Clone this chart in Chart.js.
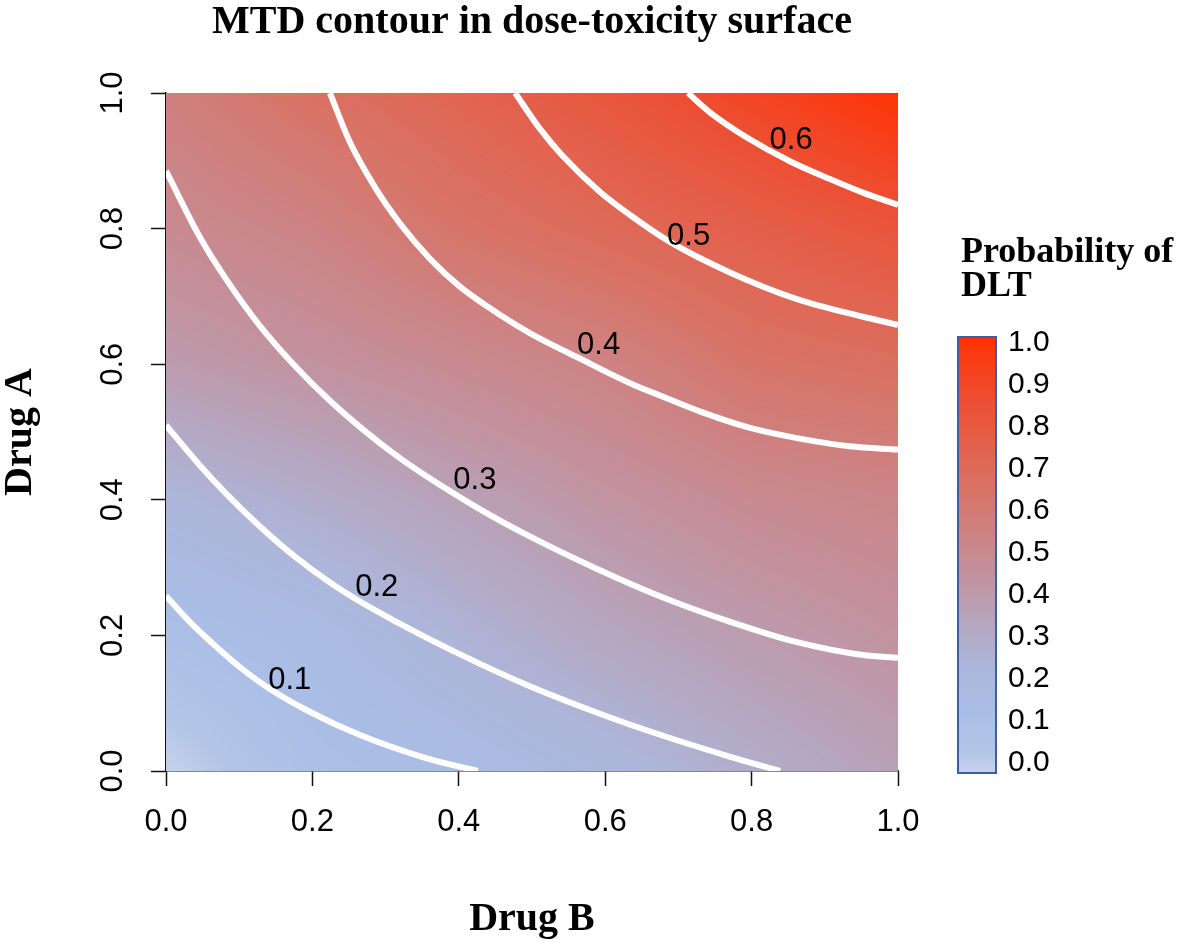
<!DOCTYPE html>
<html>
<head>
<meta charset="utf-8">
<script src="https://cdn.jsdelivr.net/npm/chart.js@4/dist/chart.umd.min.js"></script>
<style>
  html, body { margin: 0; padding: 0; background: #fff; }
  #wrap { width: 1180px; height: 947px; }
</style>
</head>
<body>
<div id="wrap"><canvas id="mtd-chart" width="1180" height="947"></canvas></div>
<script>
// axis ticks
var tickVals = [0, 0.2, 0.4, 0.6, 0.8, 1.0];
var tickLabels = ['0.0', '0.2', '0.4', '0.6', '0.8', '1.0'];

// surface grid (probability), rows = Drug A, cols = Drug B
var gridB = [0, 0.2, 0.4, 0.6, 0.8, 1.0];
var gridA = [0, 0.2, 0.4, 0.6, 0.8, 1.0];
var surface = [
  [0.00, 0.12, 0.16, 0.22, 0.30, 0.37],
  [0.12, 0.17, 0.26, 0.34, 0.40, 0.45],
  [0.24, 0.30, 0.37, 0.44, 0.50, 0.53],
  [0.40, 0.45, 0.50, 0.55, 0.64, 0.67],
  [0.50, 0.55, 0.64, 0.70, 0.76, 0.82],
  [0.57, 0.66, 0.73, 0.81, 0.90, 1.00]
];

// colour scale
var cmapAt = [0, 0.05, 0.15, 0.25, 0.35, 0.45, 0.55, 0.65, 0.75, 0.85, 0.95, 1.0];
var cmapCol = ['#c6d3eb', '#b3c5e7', '#a9bde5', '#adb5d9', '#b6a5bd', '#c2929f',
               '#cd8383', '#d87366', '#e3614c', '#ec4f33', '#f93c14', '#ff3300'];
var legendTicks = ['1.0', '0.9', '0.8', '0.7', '0.6', '0.5', '0.4', '0.3', '0.2', '0.1', '0.0'];

// contour lines [Drug B, Drug A]
var c01 = [[0, 0.258], [0.037, 0.215], [0.074, 0.178], [0.101, 0.153], [0.142, 0.121],
           [0.197, 0.087], [0.265, 0.053], [0.355, 0.019], [0.426, 0.0]];
var c02 = [[0, 0.510], [0.046, 0.451], [0.083, 0.408], [0.128, 0.361], [0.174, 0.318],
           [0.224, 0.278], [0.265, 0.250], [0.320, 0.217], [0.357, 0.196], [0.429, 0.158],
           [0.497, 0.125], [0.589, 0.086], [0.679, 0.052], [0.771, 0.021], [0.839, 0.0]];
var c03 = [[0, 0.885], [0.046, 0.788], [0.083, 0.724], [0.128, 0.657], [0.174, 0.600],
           [0.224, 0.546], [0.271, 0.502], [0.320, 0.461], [0.357, 0.434], [0.429, 0.386],
           [0.497, 0.346], [0.589, 0.298], [0.679, 0.256], [0.771, 0.220], [0.862, 0.190],
           [0.952, 0.171], [1.0, 0.167]];
var c04 = [[0.224, 1.0], [0.251, 0.928], [0.286, 0.860], [0.320, 0.807], [0.361, 0.755],
           [0.402, 0.714], [0.456, 0.673], [0.497, 0.646], [0.566, 0.608], [0.634, 0.572],
           [0.679, 0.552], [0.730, 0.530], [0.798, 0.506], [0.862, 0.491], [0.934, 0.479],
           [1.0, 0.474]];
var c05 = [[0.477, 1.0], [0.511, 0.947], [0.542, 0.907], [0.593, 0.854], [0.634, 0.820],
           [0.689, 0.780], [0.771, 0.735], [0.862, 0.696], [0.952, 0.670], [1.0, 0.658]];
var c06 = [[0.713, 1.0], [0.747, 0.968], [0.794, 0.934], [0.853, 0.899], [0.907, 0.873],
           [0.952, 0.853], [1.0, 0.835]];

var contourLines = [c01, c02, c03, c04, c05, c06];
var contourText = ['0.1', '0.2', '0.3', '0.4', '0.5', '0.6'];
var contourLabelB = [0.169, 0.288, 0.422, 0.591, 0.714, 0.854];
var contourLabelA = [0.133, 0.271, 0.428, 0.627, 0.789, 0.930];

var SANS = '"Liberation Sans", Arial, sans-serif';
var SERIF = '"Liberation Serif", "Times New Roman", serif';

function hexRgb(h) {
  return [parseInt(h.substr(1, 2), 16), parseInt(h.substr(3, 2), 16), parseInt(h.substr(5, 2), 16)];
}
var cmapRgb = cmapCol.map(hexRgb);

function colorAt(v) {
  v = Math.max(0, Math.min(1, v));
  for (var k = 0; k < cmapAt.length - 1; k++) {
    if (v <= cmapAt[k + 1]) {
      var t = (v - cmapAt[k]) / (cmapAt[k + 1] - cmapAt[k]);
      var a = cmapRgb[k], b = cmapRgb[k + 1];
      return [a[0] + (b[0] - a[0]) * t, a[1] + (b[1] - a[1]) * t, a[2] + (b[2] - a[2]) * t];
    }
  }
  return cmapRgb[cmapRgb.length - 1];
}

function cellIndex(arr, v) {
  for (var k = 0; k < arr.length - 2; k++) {
    if (v < arr[k + 1]) return k;
  }
  return arr.length - 2;
}

function surfaceAt(b, a) {
  var i = cellIndex(gridB, b), j = cellIndex(gridA, a);
  var tx = (b - gridB[i]) / (gridB[i + 1] - gridB[i]);
  var ty = (a - gridA[j]) / (gridA[j + 1] - gridA[j]);
  tx = Math.max(0, Math.min(1, tx)); ty = Math.max(0, Math.min(1, ty));
  var z00 = surface[j][i], z10 = surface[j][i + 1], z01 = surface[j + 1][i], z11 = surface[j + 1][i + 1];
  return z00 * (1 - tx) * (1 - ty) + z10 * tx * (1 - ty) + z01 * (1 - tx) * ty + z11 * tx * ty;
}

// paints the surface under the contour lines
var surfacePlugin = {
  id: 'surface',
  beforeDatasetsDraw: function (chart) {
    var ctx = chart.ctx, area = chart.chartArea, xs = chart.scales.x, ys = chart.scales.y;
    var w = Math.round(area.right - area.left), h = Math.round(area.bottom - area.top);
    var off = document.createElement('canvas');
    off.width = w; off.height = h;
    var octx = off.getContext('2d');
    var img = octx.createImageData(w, h);
    for (var j = 0; j < h; j++) {
      var va = ys.getValueForPixel(area.top + j + 0.5);
      for (var i = 0; i < w; i++) {
        var vb = xs.getValueForPixel(area.left + i + 0.5);
        var c = colorAt(surfaceAt(vb, va));
        var p = (j * w + i) * 4;
        img.data[p] = c[0]; img.data[p + 1] = c[1]; img.data[p + 2] = c[2]; img.data[p + 3] = 255;
      }
    }
    octx.putImageData(img, 0, 0);
    ctx.drawImage(off, area.left, area.top);
  },
  afterDatasetsDraw: function (chart) {
    var ctx = chart.ctx, xs = chart.scales.x, ys = chart.scales.y;
    ctx.save();
    ctx.fillStyle = '#000';
    ctx.font = '31px ' + SANS;
    ctx.textAlign = 'center';
    ctx.textBaseline = 'middle';
    for (var k = 0; k < contourText.length; k++) {
      ctx.fillText(contourText[k], xs.getPixelForValue(contourLabelB[k]), ys.getPixelForValue(contourLabelA[k]));
    }
    ctx.restore();
  },
  afterDraw: function (chart) {
    // colour key on the right
    var ctx = chart.ctx, area = chart.chartArea;
    var bx = area.right + 60, bTop = 337, bBot = 773, bw = 38;
    ctx.save();
    var grad = ctx.createLinearGradient(0, bBot, 0, bTop);
    for (var k = 0; k < cmapAt.length; k++) grad.addColorStop(cmapAt[k], cmapCol[k]);
    ctx.fillStyle = grad;
    ctx.fillRect(bx, bTop, bw, bBot - bTop);
    ctx.strokeStyle = '#3d5ea6';
    ctx.lineWidth = 2;
    ctx.strokeRect(bx, bTop, bw, bBot - bTop);

    ctx.fillStyle = '#000';
    ctx.font = '30px ' + SANS;
    ctx.textAlign = 'left';
    ctx.textBaseline = 'middle';
    var l0 = 343, l1 = 763;
    for (var i = 0; i < legendTicks.length; i++) {
      ctx.fillText(legendTicks[i], bx + 50, l0 + (l1 - l0) * i / (legendTicks.length - 1));
    }
    ctx.font = 'bold 36px ' + SERIF;
    ctx.textBaseline = 'alphabetic';
    ctx.fillText('Probability of', bx + 3, 262);
    ctx.fillText('DLT', bx + 3, 296);
    ctx.restore();
  }
};

var axisCommon = function (label, titlePad) {
  return {
    type: 'linear',
    min: 0,
    max: 1,
    afterBuildTicks: function (scale) {
      scale.ticks = tickVals.map(function (v) { return { value: v }; });
    },
    ticks: {
      autoSkip: false,
      color: '#000',
      font: { family: SANS, size: 31 },
      callback: function (v, i) { return tickLabels[i]; }
    },
    grid: { drawOnChartArea: false, drawTicks: true, tickLength: 15, tickColor: '#111', tickWidth: 1.5 },
    border: { display: true, color: '#111', width: 1.5 },
    title: {
      display: true,
      text: label,
      color: '#000',
      font: { family: SERIF, size: 40, weight: 'bold', lineHeight: 1 },
      padding: titlePad
    }
  };
};

var xAxis = axisCommon('Drug B', { top: 0, bottom: 7 });
xAxis.ticks.padding = 18;
xAxis.afterFit = function (scale) { scale.height = 176; };

var yAxis = axisCommon('Drug A', { top: 1, bottom: 0 });
yAxis.ticks.padding = 16;
yAxis.ticks.minRotation = 90;
yAxis.ticks.maxRotation = 90;
yAxis.ticks.crossAlign = 'center';
yAxis.afterFit = function (scale) { scale.width = 166; };

var ctx = document.getElementById('mtd-chart');
var chart = new Chart(ctx, {
  type: 'scatter',
  data: {
    datasets: contourLines.map(function (pts, k) {
      return {
        label: contourText[k],
        data: pts.map(function (p) { return { x: p[0], y: p[1] }; }),
        showLine: true,
        borderColor: '#ffffff',
        borderWidth: 6,
        pointRadius: 0,
        cubicInterpolationMode: 'monotone',
        clip: 0
      };
    })
  },
  options: {
    responsive: false,
    animation: false,
    devicePixelRatio: 1,
    layout: { padding: { left: 0, right: 282, top: 0, bottom: 0 } },
    plugins: {
      legend: { display: false },
      tooltip: { enabled: false },
      title: {
        display: true,
        fullSize: false,
        text: 'MTD contour in dose-toxicity surface',
        color: '#000',
        font: { family: SERIF, size: 40, weight: 'bold', lineHeight: 1 },
        padding: { top: 3, bottom: 50 }
      }
    },
    scales: { x: xAxis, y: yAxis }
  },
  plugins: [surfacePlugin]
});
</script>
</body>
</html>
